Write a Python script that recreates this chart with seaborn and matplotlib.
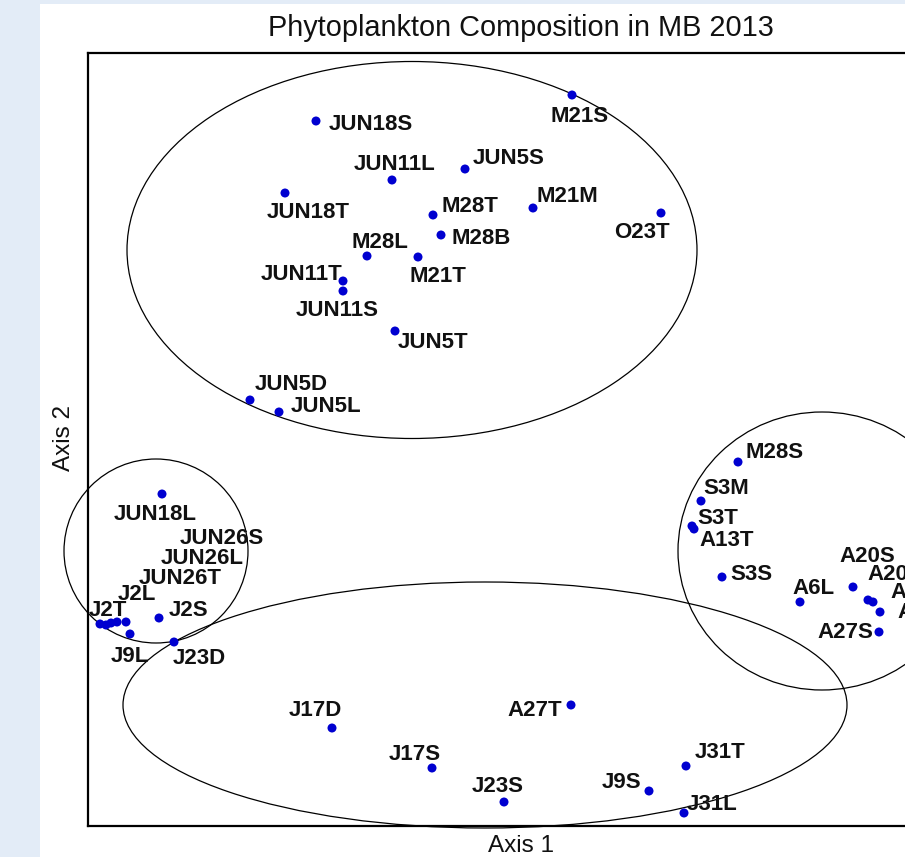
import matplotlib
matplotlib.use("Agg")
import matplotlib.pyplot as plt
from matplotlib.patches import Ellipse, Rectangle
import seaborn as sns
import pandas as pd

# ---- data (ordination scores) ----
samples = ["JUN18S", "JUN11L", "JUN5S", "M21S", "JUN18T", "M28T", "M21M", "O23T",
           "M28B", "M28L", "M21T", "JUN11T", "JUN11S", "JUN5T", "JUN5D", "JUN5L",
           "JUN18L", "JUN26S", "JUN26L", "JUN26T", "J2L", "J2T", "J2S", "J9L", "J23D",
           "M28S", "S3M", "S3T", "A13T", "S3S", "A6L", "A20S", "A20T", "A13S", "A6S", "A27S",
           "J17D", "A27T", "J17S", "J23S", "J9S", "J31T", "J31L"]
axis1 = [316, 392, 465, 572, 285, 433, 533, 661,
         441, 367, 418, 343, 343, 395, 250, 279,
         162, 126, 117, 111, 106, 100, 159, 130, 174,
         738, 701, 692, 694, 722, 800, 853, 868, 873, 880, 879,
         332, 571, 432, 504, 649, 686, 684]
axis2 = [736, 677, 688, 762, 664, 642, 649, 644,
         622, 601, 600, 576, 566, 526, 457, 445,
         363, 235, 235, 234, 232, 233, 239, 223, 215,
         395, 356, 331, 328, 280, 255, 270, 257, 255, 245, 225,
         129, 152, 89, 55, 66, 91, 44]

# group ellipses: centre (axis1, axis2), width, height
ell_cx = [412, 156, 822, 485]
ell_cy = [607, 306, 306, 152]
ell_w = [570, 184, 288, 724]
ell_h = [377, 184, 278, 246]

# label offsets (pixels, layout only)
label_dx = [55, 3, 44, 8, 23, 37, 34, -19,
            40, 13, 20, -41, -6, 38, 41, 47,
            -7, 96, 85, 69, 31, 8, 30, 0, 25,
            37, 25, 26, 33, 29, 13, 14, 27, 45, 39, -34,
            -17, -36, -17, -6, -27, 34, 28]
label_dy = [3, -15, -11, 22, 20, -9, -11, 20,
            4, -14, 20, -6, 19, 11, -15, -6,
            21, -84, -64, -45, -30, -13, -7, 23, 16,
            -10, -13, -7, 12, -2, -14, -30, -25, -10, 1, 1,
            -18, 5, -13, -16, -8, -14, -9]

df = pd.DataFrame({"Axis 1": axis1, "Axis 2": axis2, "sample": samples})

sns.set_style("white")
plt.rcParams["font.family"] = ["Liberation Sans", "DejaVu Sans"]

W, H = 905, 857
fig = plt.figure(figsize=(W / 100, H / 100), dpi=100)
fig.patch.set_facecolor("#e3ecf7")
bg = Rectangle((40 / W, 0), 1, 1 - 4 / H, transform=fig.transFigure,
               facecolor="white", edgecolor="none", zorder=-10)
fig.patches.append(bg)

ax = fig.add_axes([88 / W, 31 / H, (954 - 88) / W, (826 - 53) / H])
ax.set_facecolor("white")
ax.set_zorder(1)

sns.scatterplot(data=df, x="Axis 1", y="Axis 2", ax=ax, color="#0000d0",
                s=42, edgecolor="none", zorder=3, clip_on=False)

for name, x, y, dx, dy in zip(samples, axis1, axis2, label_dx, label_dy):
    ax.annotate(name, (x, y), xytext=(dx, -dy), textcoords="offset pixels",
                ha="center", va="center", fontsize=16, fontweight="bold",
                color="#111111", annotation_clip=False, zorder=4)

for cx, cy, w, h in zip(ell_cx, ell_cy, ell_w, ell_h):
    ax.add_patch(Ellipse((cx, cy), w, h, fill=False, edgecolor="black",
                         linewidth=0.9, clip_on=False, zorder=2))

ax.set_xlim(88, 954)
ax.set_ylim(31, 804)
ax.set_xticks([])
ax.set_yticks([])
ax.set_xlabel("")
ax.set_ylabel("")
for sp in ax.spines.values():
    sp.set_visible(True)
    sp.set_color("black")
    sp.set_linewidth(1.6)

fig.text(521 / W, 1 - 28 / H, "Phytoplankton Composition in MB 2013",
         ha="center", va="center", fontsize=20.8, color="#111111")
fig.text(521 / W, 1 - 846 / H, "Axis 1", ha="center", va="center",
         fontsize=17.5, color="#111111")
fig.text(64 / W, 1 - 438 / H, "Axis 2", ha="center", va="center",
         rotation=90, fontsize=17.5, color="#111111")

fig.savefig("out.png", dpi=100, facecolor=fig.get_facecolor())
